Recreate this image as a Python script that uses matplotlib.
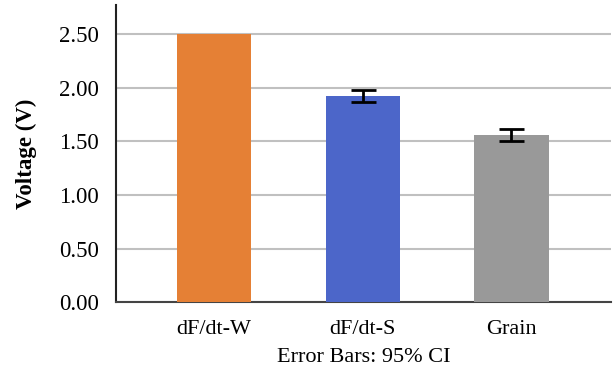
import matplotlib
matplotlib.use("Agg")
import matplotlib.pyplot as plt

categories = ["dF/dt-W", "dF/dt-S", "Grain"]
values = [2.50, 1.924, 1.558]
errors = [0.0, 0.055, 0.057]
colors = ["#E58035", "#4C66C9", "#999999"]
yticks = [0.0, 0.5, 1.0, 1.5, 2.0, 2.5]

plt.rcParams['font.family'] = ['Liberation Serif', 'DejaVu Serif']

fig = plt.figure(figsize=(6.16, 3.68), dpi=100)
ax = fig.add_axes([0.188, 0.179, 0.804, 0.807])

x = list(range(len(categories)))
ax.bar(x, values, width=0.5, color=colors, zorder=3)
ax.errorbar(x[1:], values[1:], yerr=errors[1:], fmt='none', ecolor='black',
            elinewidth=2, capsize=9, capthick=2, zorder=4)

ax.set_xlim(-0.66, 2.67)
ax.set_ylim(0, 2.77)
ax.set_yticks(yticks)
ax.set_yticklabels([f"{v:.2f}" for v in yticks], fontsize=16.5)
ax.set_xticks(x)
ax.set_xticklabels(categories, fontsize=16)
ax.tick_params(axis='y', length=0, pad=12)
ax.tick_params(axis='x', length=0, pad=13)

ax.yaxis.grid(True, color='#c0c0c0', linewidth=1.5, zorder=0)
ax.set_axisbelow(True)
for s in ['top', 'right']:
    ax.spines[s].set_visible(False)
ax.spines['left'].set_color('#222222')
ax.spines['left'].set_linewidth(1.5)
ax.spines['bottom'].set_color('#444444')
ax.spines['bottom'].set_linewidth(1.5)

ax.set_ylabel("Voltage (V)", fontsize=16.5, fontweight='bold', labelpad=16)
ax.set_xlabel("Error Bars: 95% CI", fontsize=16, labelpad=6)

fig.savefig("out.png", dpi=100)
